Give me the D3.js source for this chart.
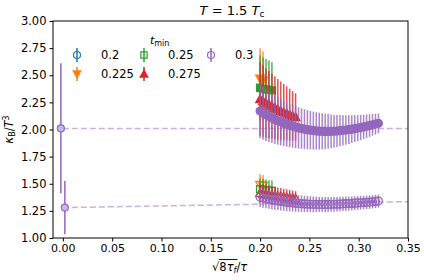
<!DOCTYPE html>
<html>
<head>
<meta charset="utf-8">
<script src="https://cdn.jsdelivr.net/npm/d3@7"></script>
<style>
  body { margin: 0; background: #fff; }
  svg text { font-family: "DejaVu Sans", sans-serif; fill: #000; }
</style>
</head>
<body>
<svg id="chart" width="424" height="280"></svg>
<script>
// flow-time grid (sqrt(8 tau_f)/tau)
var xGrid = [0.200,0.203,0.206,0.209,0.212,0.215,0.218,0.221,0.224,0.227,0.230,0.233,0.236,0.239,
  0.242,0.245,0.248,0.251,0.254,0.257,0.260,0.263,0.266,0.269,0.272,0.275,0.278,0.281,0.284,0.287,
  0.290,0.293,0.296,0.299,0.302,0.305,0.308,0.311,0.314,0.317,0.320];

var tminLabels = ["0.2", "0.225", "0.25", "0.275", "0.3"];
var colors = ["#1f77b4", "#ff7f0e", "#2ca02c", "#d62728", "#9467bd"];
var markers = ["circle", "down", "square", "up", "circle"];

// upper quantity (filled markers)
var upperVal = [
  [],
  [2.47, 2.45],
  [2.385, 2.375, 2.370, 2.365, 2.360],
  [2.280, 2.262, 2.245, 2.230, 2.215, 2.200, 2.186, 2.172, 2.160, 2.148, 2.136, 2.125, 2.115],
  [2.170, 2.150, 2.135, 2.120, 2.105, 2.092, 2.080, 2.068, 2.057, 2.047, 2.038, 2.030, 2.022, 2.015,
   2.009, 2.003, 1.998, 1.994, 1.990, 1.987, 1.985, 1.983, 1.982, 1.982, 1.983, 1.984, 1.986, 1.989,
   1.992, 1.995, 1.999, 2.003, 2.008, 2.013, 2.018, 2.024, 2.030, 2.036, 2.043, 2.050, 2.057]
];
var upperErr = [
  [],
  [0.28, 0.27],
  [0.30, 0.29, 0.28, 0.27, 0.26],
  [0.34, 0.33, 0.32, 0.31, 0.30, 0.29, 0.28, 0.27, 0.26, 0.25, 0.24, 0.23, 0.22],
  [0.25, 0.245, 0.24, 0.235, 0.23, 0.225, 0.22, 0.215, 0.21, 0.205, 0.20, 0.197, 0.194, 0.19,
   0.187, 0.184, 0.181, 0.178, 0.175, 0.172, 0.169, 0.166, 0.163, 0.16, 0.156, 0.152, 0.148, 0.144,
   0.14, 0.136, 0.132, 0.128, 0.124, 0.12, 0.116, 0.112, 0.108, 0.104, 0.10, 0.096, 0.092]
];

// lower quantity (open markers)
var lowerVal = [
  [],
  [1.49, 1.48],
  [1.450, 1.445, 1.440, 1.437, 1.434],
  [1.415, 1.410, 1.405, 1.400, 1.395, 1.390, 1.386, 1.382, 1.378, 1.374, 1.370, 1.366, 1.362],
  [1.375, 1.368, 1.362, 1.356, 1.351, 1.346, 1.341, 1.337, 1.333, 1.329, 1.326, 1.323, 1.320, 1.318,
   1.316, 1.314, 1.312, 1.311, 1.310, 1.309, 1.309, 1.309, 1.309, 1.309, 1.310, 1.311, 1.312, 1.313,
   1.314, 1.316, 1.317, 1.319, 1.321, 1.323, 1.325, 1.327, 1.329, 1.331, 1.334, 1.337, 1.340]
];
var lowerErr = [
  [],
  [0.10, 0.10],
  [0.10, 0.10, 0.10, 0.095, 0.095],
  [0.09, 0.088, 0.087, 0.085, 0.083, 0.082, 0.080, 0.078, 0.077, 0.075, 0.073, 0.072, 0.070],
  [0.09, 0.089, 0.088, 0.087, 0.086, 0.085, 0.084, 0.083, 0.082, 0.081, 0.080, 0.079, 0.078, 0.077,
   0.076, 0.075, 0.074, 0.073, 0.072, 0.071, 0.070, 0.070, 0.069, 0.069, 0.068, 0.068, 0.067, 0.067,
   0.066, 0.066, 0.065, 0.065, 0.064, 0.064, 0.063, 0.063, 0.062, 0.062, 0.061, 0.061, 0.060]
];

// continuum extrapolations (x, value, error, dashed-line end value)
var extrap = [
  { x: -0.002, v: 2.01, e: 0.60, end: 2.01 },
  { x: 0.002, v: 1.28, e: 0.245, end: 1.335 }
];

var xTicks = [0.00, 0.05, 0.10, 0.15, 0.20, 0.25, 0.30, 0.35];
var yTicks = [1.00, 1.25, 1.50, 1.75, 2.00, 2.25, 2.50, 2.75, 3.00];

var margin = { left: 53, right: 16, top: 21, bottom: 42 };
var W = 424, H = 280;
var svg = d3.select("#chart");

var x = d3.scaleLinear().domain([-0.01, 0.35]).range([margin.left, W - margin.right]);
var y = d3.scaleLinear().domain([1.0, 3.0]).range([H - margin.bottom, margin.top]);

var plot = svg.append("g");
svg.append("defs").append("clipPath").attr("id", "clip")
  .append("rect").attr("x", x.range()[0]).attr("y", y.range()[1])
  .attr("width", x.range()[1] - x.range()[0]).attr("height", y.range()[0] - y.range()[1]);
plot.attr("clip-path", "url(#clip)");

function markerPath(kind, size) {
  var r = size / 2;
  if (kind === "circle") return d3.symbol(d3.symbolCircle, Math.PI * r * r)();
  if (kind === "square") return d3.symbol(d3.symbolSquare, size * size * 0.8)();
  var h = r * 1.1;
  if (kind === "up") return "M0," + (-h) + "L" + h + "," + (h * 0.8) + "L" + (-h) + "," + (h * 0.8) + "Z";
  return "M0," + h + "L" + h + "," + (-h * 0.8) + "L" + (-h) + "," + (-h * 0.8) + "Z";
}

// dashed extrapolation lines
extrap.forEach(function (d) {
  plot.append("line")
    .attr("x1", x(0)).attr("x2", x(0.35))
    .attr("y1", y(d.v)).attr("y2", y(d.end))
    .attr("stroke", colors[4]).attr("stroke-opacity", 0.5)
    .attr("stroke-width", 1.5).attr("stroke-dasharray", "6,3");
});

// errorbar series
function drawSeries(vals, errs, filled) {
  vals.forEach(function (arr, i) {
    var g = plot.append("g");
    var pts = arr.map(function (v, k) { return { x: xGrid[k], v: v, e: errs[i][k] }; });
    g.selectAll("line").data(pts).enter().append("line")
      .attr("x1", function (d) { return x(d.x); }).attr("x2", function (d) { return x(d.x); })
      .attr("y1", function (d) { return y(d.v - d.e); }).attr("y2", function (d) { return y(d.v + d.e); })
      .attr("stroke", colors[i]).attr("stroke-width", 1.5).attr("stroke-opacity", 0.8);
    g.selectAll("path").data(pts).enter().append("path")
      .attr("d", markerPath(markers[i], 8))
      .attr("transform", function (d) { return "translate(" + x(d.x) + "," + y(d.v) + ")"; })
      .attr("fill", filled ? colors[i] : "none")
      .attr("stroke", colors[i]).attr("stroke-width", 1.2);
  });
}
drawSeries(lowerVal, lowerErr, false);
drawSeries(upperVal, upperErr, true);

// extrapolated points
extrap.forEach(function (d) {
  plot.append("line")
    .attr("x1", x(d.x)).attr("x2", x(d.x))
    .attr("y1", y(d.v - d.e)).attr("y2", y(d.v + d.e))
    .attr("stroke", colors[4]).attr("stroke-width", 1.5);
  plot.append("path").attr("d", markerPath("circle", 7))
    .attr("transform", "translate(" + x(d.x) + "," + y(d.v) + ")")
    .attr("fill", "#c9b8e2").attr("stroke", colors[4]).attr("stroke-width", 1.2);
});

// axes
var fmt = d3.format(".2f");
svg.append("g").attr("transform", "translate(0," + y.range()[0] + ")")
  .call(d3.axisBottom(x).tickValues(xTicks).tickFormat(fmt).tickSize(3.5).tickPadding(3))
  .call(function (g) { g.select(".domain").remove(); g.selectAll("text").attr("font-size", 11).attr("fill", "#000"); g.selectAll("line").attr("stroke", "#000"); });
svg.append("g").attr("transform", "translate(" + x.range()[0] + ",0)")
  .call(d3.axisLeft(y).tickValues(yTicks).tickFormat(fmt).tickSize(3.5).tickPadding(3))
  .call(function (g) { g.select(".domain").remove(); g.selectAll("text").attr("font-size", 11.5).attr("fill", "#000"); g.selectAll("line").attr("stroke", "#000"); });
svg.selectAll(".tick text").attr("font-family", "DejaVu Sans, sans-serif");

svg.append("rect")
  .attr("x", x.range()[0]).attr("y", y.range()[1])
  .attr("width", x.range()[1] - x.range()[0]).attr("height", y.range()[0] - y.range()[1])
  .attr("fill", "none").attr("stroke", "#000").attr("stroke-width", 1);

// title
var title = svg.append("text").attr("x", 232).attr("y", 15)
  .attr("text-anchor", "middle").attr("font-size", 13);
title.append("tspan").attr("font-style", "italic").text("T");
title.append("tspan").text(" = 1.5 ");
title.append("tspan").attr("font-style", "italic").text("T");
title.append("tspan").attr("font-size", 9).attr("dy", 2).text("c");

// y label
var yl = svg.append("text").attr("transform", "translate(13," + ((y.range()[0] + y.range()[1]) / 2) + ") rotate(-90)")
  .attr("text-anchor", "middle").attr("font-size", 11.5);
yl.append("tspan").attr("font-style", "italic").text("κ");
yl.append("tspan").attr("font-size", 8).attr("dy", 2).text("B");
yl.append("tspan").attr("dy", -2).text("/");
yl.append("tspan").attr("font-style", "italic").text("T");
yl.append("tspan").attr("font-size", 8).attr("dy", -4).text("3");

// x label
var xlx = 212;
var xl = svg.append("text").attr("x", xlx).attr("y", 271).attr("font-size", 11.5);
xl.append("tspan").text("√");
xl.append("tspan").text("8");
xl.append("tspan").attr("font-style", "italic").text("τ");
xl.append("tspan").attr("font-style", "italic").attr("font-size", 8).attr("dy", 2).text("f");
xl.append("tspan").attr("dy", -2).text("/");
xl.append("tspan").attr("font-style", "italic").text("τ");
var rootW = xl.node().getSubStringLength(0, 1);
var innerW = xl.node().getSubStringLength(1, 3);
svg.append("line").attr("x1", xlx + rootW - 0.5).attr("x2", xlx + rootW + innerW + 1)
  .attr("y1", 259.5).attr("y2", 259.5).attr("stroke", "#000").attr("stroke-width", 0.9);

// legend
var legend = svg.append("g");
var lt = legend.append("text").attr("x", 150).attr("y", 44).attr("font-size", 11);
lt.append("tspan").attr("font-style", "italic").text("t");
lt.append("tspan").attr("font-size", 8).attr("dy", 2).text("min");
var legFilled = [false, true, false, true, false];
var legPos = [[77, 55], [77, 74], [144, 55], [144, 74], [211, 55]];
tminLabels.forEach(function (lab, i) {
  var p = legPos[i];
  legend.append("line").attr("x1", p[0]).attr("x2", p[0]).attr("y1", p[1] - 7).attr("y2", p[1] + 7)
    .attr("stroke", colors[i]).attr("stroke-width", 1.5);
  legend.append("path").attr("d", markerPath(markers[i], 7))
    .attr("transform", "translate(" + p[0] + "," + p[1] + ")")
    .attr("fill", legFilled[i] ? colors[i] : "none").attr("stroke", colors[i]).attr("stroke-width", 1.2);
  legend.append("text").attr("x", p[0] + 24).attr("y", p[1] + 4).attr("font-size", 11.5).text(lab);
});
</script>
</body>
</html>
